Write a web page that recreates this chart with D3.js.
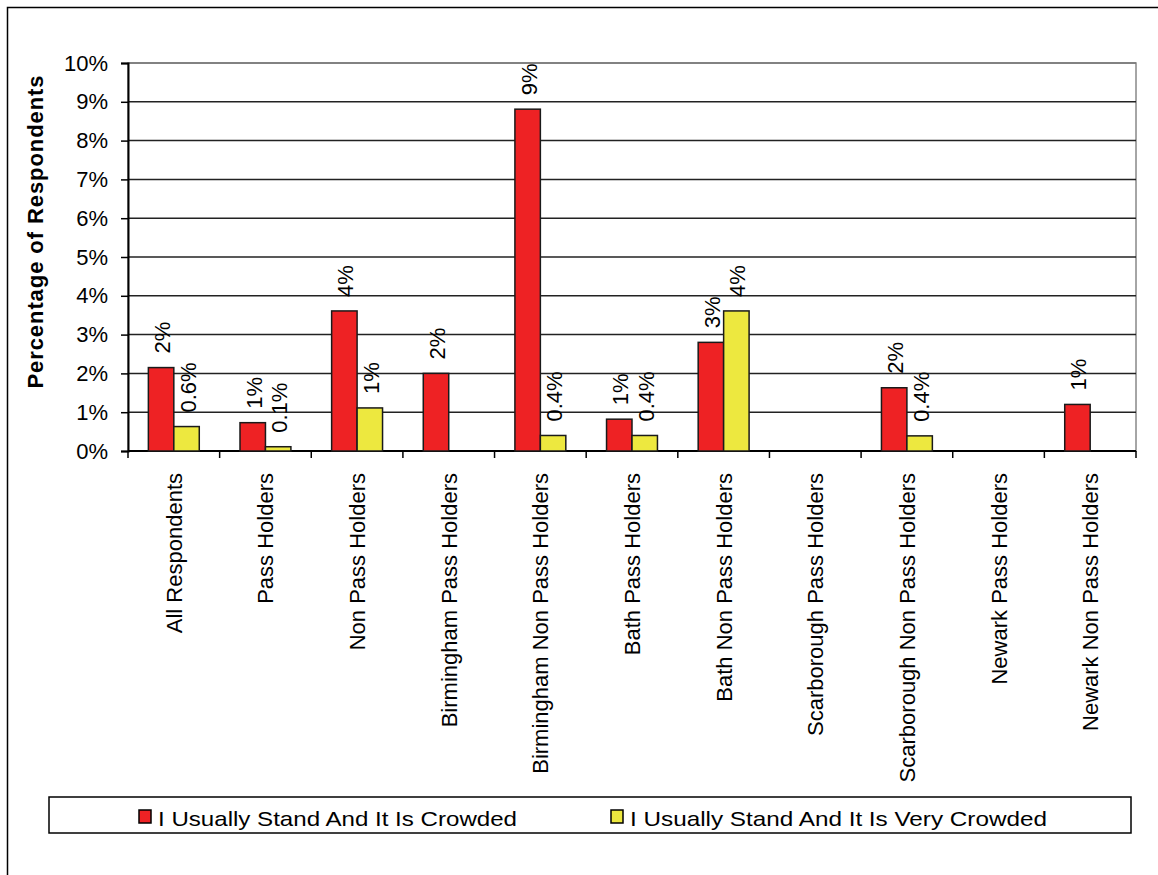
<!DOCTYPE html>
<html>
<head>
<meta charset="utf-8">
<script src="https://cdn.jsdelivr.net/npm/d3@7"></script>
<style>
  body { margin: 0; background: #fff; }
  text { font-family: 'Liberation Sans', Arial, sans-serif; fill: #000; }
</style>
</head>
<body>
<svg id="chart" width="1158" height="875"></svg>
<script>
const categories = ['All Respondents', 'Pass Holders', 'Non Pass Holders', 'Birmingham Pass Holders',
  'Birmingham Non Pass Holders', 'Bath Pass Holders', 'Bath Non Pass Holders', 'Scarborough Pass Holders',
  'Scarborough Non Pass Holders', 'Newark Pass Holders', 'Newark Non Pass Holders']
const crowded = [2.15, 0.73, 3.61, 2.0, 8.81, 0.82, 2.8, null, 1.63, null, 1.2]
const veryCrowded = [0.63, 0.11, 1.11, null, 0.4, 0.4, 3.61, null, 0.39, null, null]
const crowdedLabels = ['2%', '1%', '4%', '2%', '9%', '1%', '3%', null, '2%', null, '1%']
const veryCrowdedLabels = ['0.6%', '0.1%', '1%', null, '0.4%', '0.4%', '4%', null, '0.4%', null, null]
const yTicks = [0, 1, 2, 3, 4, 5, 6, 7, 8, 9, 10]
const seriesNames = ['I Usually Stand And It Is Crowded', 'I Usually Stand And It Is Very Crowded']
const colors = ['#ee2224', '#ede83f']

const margin = { top: 63, left: 128, right: 22, bottom: 424 }
const width = 1158 - margin.left - margin.right
const height = 875 - margin.top - margin.bottom

const svg = d3.select('#chart')

// outer frame
svg.append('rect')
  .attr('x', 7.5).attr('y', 7.5)
  .attr('width', 1160).attr('height', 880)
  .attr('fill', 'none').attr('stroke', '#000').attr('stroke-width', 1.5)

const g = svg.append('g')
  .attr('transform', 'translate(' + margin.left + ',' + margin.top + ')')

const x = d3.scaleBand().domain(categories).range([0, width])
const sub = d3.scaleBand().domain([0, 1]).range([0, x.bandwidth()]).paddingOuter(0.8).paddingInner(0)
const y = d3.scaleLinear().domain([0, 10]).range([height, 0])

// plot border (grey)
g.append('rect')
  .attr('width', width).attr('height', height)
  .attr('fill', 'none').attr('stroke', '#888').attr('stroke-width', 1.5)

// gridlines
g.selectAll('.grid')
  .data(yTicks.filter(d => d > 0))
  .enter()
  .append('line')
  .attr('class', 'grid')
  .attr('x1', 0).attr('x2', width)
  .attr('y1', d => y(d)).attr('y2', d => y(d))
  .attr('stroke', d => d === 10 ? '#777' : '#222')
  .attr('stroke-width', 1.5)

// y axis
const yAxis = g.append('g')
  .call(d3.axisLeft(y).tickValues(yTicks).tickFormat(d => d + '%').tickSize(7).tickPadding(13))
yAxis.select('.domain').attr('stroke', '#000').attr('stroke-width', 2)
yAxis.selectAll('.tick line').attr('stroke', '#000').attr('stroke-width', 1.5)
yAxis.selectAll('text')
  .attr('font-size', 22)
  .attr('font-family', "'Liberation Sans', Arial, sans-serif")

// x axis with ticks at band edges
const xAxis = g.append('g')
  .attr('transform', 'translate(0,' + height + ')')
xAxis.append('line')
  .attr('x1', 0).attr('x2', width)
  .attr('stroke', '#000').attr('stroke-width', 2)
xAxis.selectAll('.xtick')
  .data(categories.concat(['__end']))
  .enter()
  .append('line')
  .attr('class', 'xtick')
  .attr('x1', (d, i) => i < categories.length ? x(d) : width)
  .attr('x2', (d, i) => i < categories.length ? x(d) : width)
  .attr('y1', 0).attr('y2', 7)
  .attr('stroke', '#000').attr('stroke-width', 1.5)

xAxis.selectAll('.xlabel')
  .data(categories)
  .enter()
  .append('text')
  .attr('class', 'xlabel')
  .attr('transform', d => 'translate(' + (x(d) + x.bandwidth() / 2 + 8) + ',22) rotate(-90)')
  .attr('text-anchor', 'end')
  .attr('font-size', 22)
  .text(d => d)

// bars
const series = [crowded, veryCrowded]
const labels = [crowdedLabels, veryCrowdedLabels]

series.forEach(function(values, s) {
  const rows = categories.map((c, i) => ({ cat: c, value: values[i], label: labels[s][i] }))
    .filter(d => d.value !== null)

  g.selectAll('.bar-' + s)
    .data(rows)
    .enter()
    .append('rect')
    .attr('class', 'bar-' + s)
    .attr('x', d => x(d.cat) + sub(s))
    .attr('y', d => y(d.value))
    .attr('width', sub.bandwidth())
    .attr('height', d => height - y(d.value))
    .attr('fill', colors[s])
    .attr('stroke', '#1a1a1a')
    .attr('stroke-width', 1.5)

  g.selectAll('.label-' + s)
    .data(rows.filter(d => d.label))
    .enter()
    .append('text')
    .attr('class', 'label-' + s)
    .attr('transform', d => 'translate(' + (x(d.cat) + sub(s) + sub.bandwidth() / 2 + 9) + ',' + (y(d.value) - 14) + ') rotate(-90)')
    .attr('font-size', 22)
    .text(d => d.label)
})

// y axis title
svg.append('text')
  .attr('transform', 'translate(43,232) rotate(-90)')
  .attr('text-anchor', 'middle')
  .attr('font-size', 22)
  .attr('font-weight', 'bold')
  .attr('textLength', 313)
  .attr('lengthAdjust', 'spacing')
  .text('Percentage  of Respondents')

// legend
const legend = svg.append('g')
legend.append('rect')
  .attr('x', 49).attr('y', 797)
  .attr('width', 1082).attr('height', 36)
  .attr('fill', '#fff').attr('stroke', '#000').attr('stroke-width', 1.5)

const legendX = [139, 611]
const legendW = [359, 417]
seriesNames.forEach(function(name, i) {
  legend.append('rect')
    .attr('x', legendX[i]).attr('y', 810)
    .attr('width', 12).attr('height', 13)
    .attr('fill', colors[i]).attr('stroke', '#000').attr('stroke-width', 1.5)
  legend.append('text')
    .attr('x', legendX[i] + 19).attr('y', 826)
    .attr('font-size', 21)
    .attr('textLength', legendW[i])
    .attr('lengthAdjust', 'spacingAndGlyphs')
    .text(name)
})
</script>
</body>
</html>
